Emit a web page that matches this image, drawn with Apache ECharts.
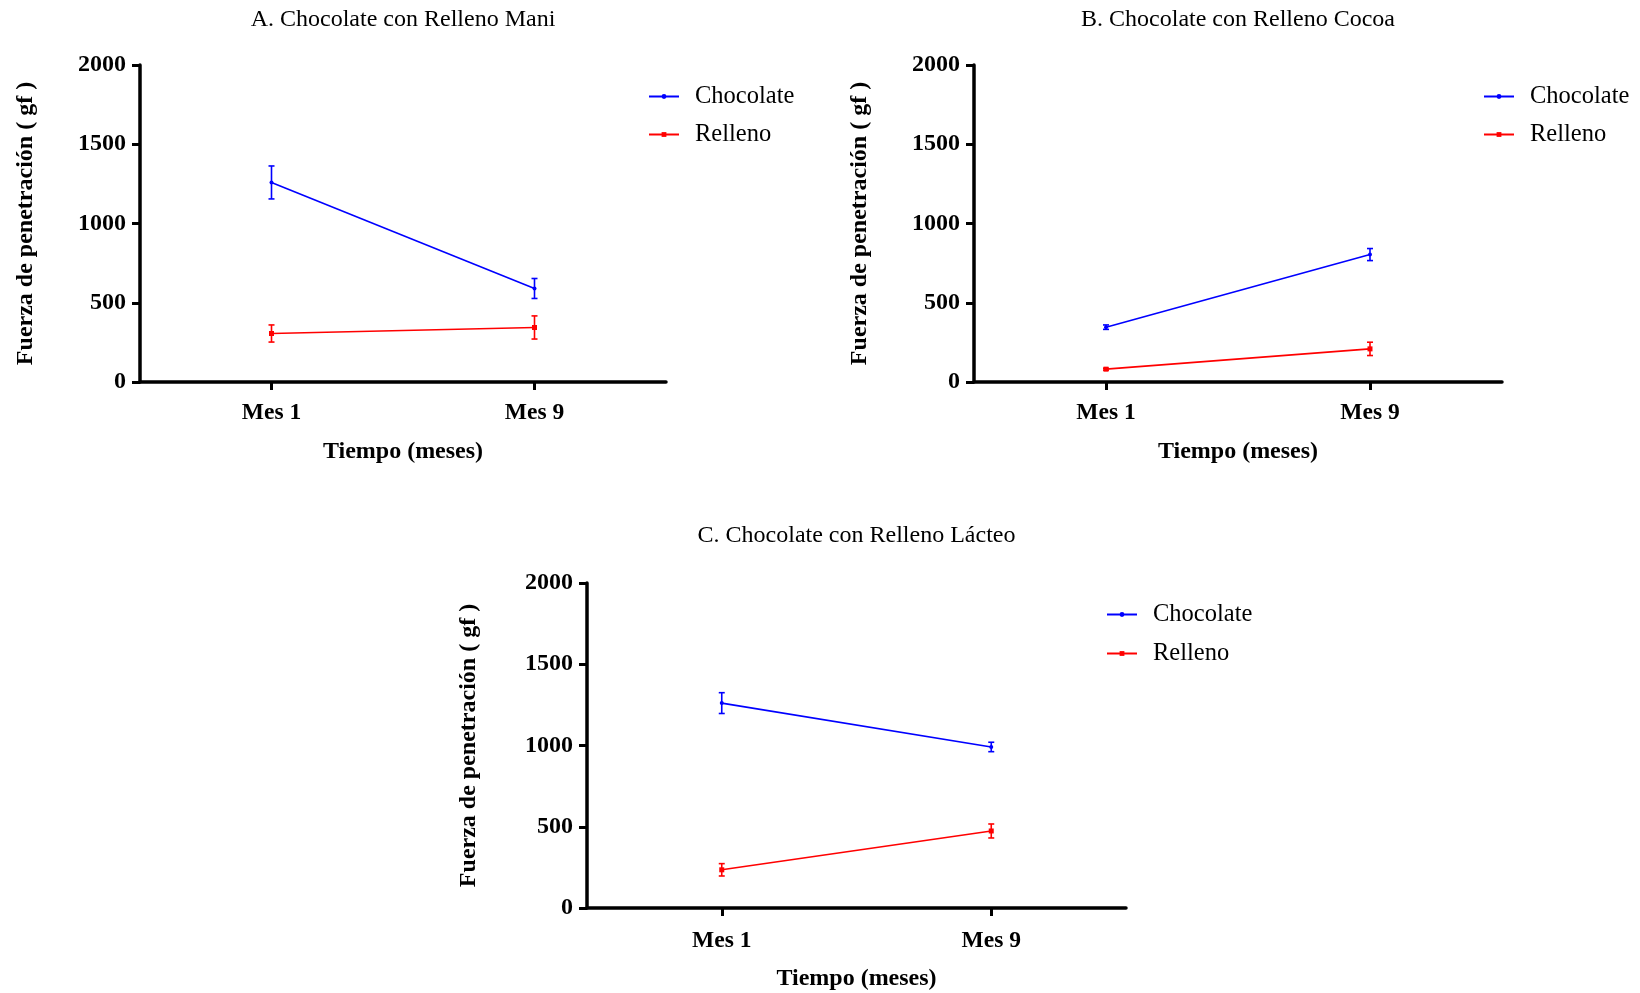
<!DOCTYPE html>
<html>
<head>
<meta charset="utf-8">
<title>Fuerza de penetración</title>
<script src="https://cdn.jsdelivr.net/npm/echarts@6/dist/echarts.min.js"></script>
<style>
  html, body { margin: 0; padding: 0; background: #fff; }
  #chart { width: 1640px; height: 993px; }
</style>
</head>
<body>
<div id="chart"></div>
<script>
// Time points on the x axis
const categories = ['Mes 1', 'Mes 9'];
const seriesNames = ['Chocolate', 'Relleno'];
const yTicks = [0, 500, 1000, 1500, 2000];

// Panel titles
const titles = [
  'A. Chocolate con Relleno Mani',
  'B. Chocolate con Relleno Cocoa',
  'C. Chocolate con Relleno Lácteo'
];

// Mean penetration force (gf) and error (±) per panel
const maniChocolate = [1259, 590];
const maniChocolateErr = [104, 63];
const maniRelleno = [306, 344];
const maniRellenoErr = [54, 73];

const cocoaChocolate = [346, 804];
const cocoaChocolateErr = [14, 38];
const cocoaRelleno = [81, 209];
const cocoaRellenoErr = [6, 42];

const lacteoChocolate = [1261, 991];
const lacteoChocolateErr = [64, 29];
const lacteoRelleno = [235, 474];
const lacteoRellenoErr = [38, 43];

const panelData = [
  { chocolate: maniChocolate, chocolateErr: maniChocolateErr, relleno: maniRelleno, rellenoErr: maniRellenoErr },
  { chocolate: cocoaChocolate, chocolateErr: cocoaChocolateErr, relleno: cocoaRelleno, rellenoErr: cocoaRellenoErr },
  { chocolate: lacteoChocolate, chocolateErr: lacteoChocolateErr, relleno: lacteoRelleno, rellenoErr: lacteoRellenoErr }
];

// Plot rectangles and text placement for each panel
const layout = [
  { grid: { left: 140, top: 65, width: 526, height: 317 }, titleY: 19, legendLeft: 643, legendTop: 79, legendGap: 13, yNameGap: 102, xNameGap: 58, xLabelMargin: 19 },
  { grid: { left: 974, top: 65, width: 528, height: 317 }, titleY: 19, legendLeft: 1478, legendTop: 79, legendGap: 13, yNameGap: 102, xNameGap: 58, xLabelMargin: 19 },
  { grid: { left: 587, top: 583, width: 539, height: 325 }, titleY: 535, legendLeft: 1101, legendTop: 597, legendGap: 14, yNameGap: 106, xNameGap: 59, xLabelMargin: 21 }
];

const BLUE = '#0000ff';
const RED = '#ff0000';
const FONT = '"Liberation Serif", "Times New Roman", serif';

function errorBarSeries(name, values, errs, color, idx) {
  return {
    type: 'custom',
    name: name + ' error',
    xAxisIndex: idx,
    yAxisIndex: idx,
    z: 3,
    silent: true,
    data: values.map((v, i) => [i, v - errs[i], v + errs[i]]),
    renderItem: function (params, api) {
      const lo = api.coord([api.value(0), api.value(1)]);
      const hi = api.coord([api.value(0), api.value(2)]);
      const cap = 3;
      const style = { stroke: color, lineWidth: 1.6 };
      return {
        type: 'group',
        children: [
          { type: 'line', shape: { x1: lo[0], y1: lo[1], x2: hi[0], y2: hi[1] }, style: style },
          { type: 'line', shape: { x1: lo[0] - cap, y1: lo[1], x2: lo[0] + cap, y2: lo[1] }, style: style },
          { type: 'line', shape: { x1: hi[0] - cap, y1: hi[1], x2: hi[0] + cap, y2: hi[1] }, style: style }
        ]
      };
    }
  };
}

const grids = [], xAxes = [], yAxes = [], series = [], legends = [], graphics = [];

layout.forEach((L, idx) => {
  const d = panelData[idx];
  grids.push(Object.assign({ containLabel: false }, L.grid));

  xAxes.push({
    type: 'category',
    gridIndex: idx,
    data: categories,
    name: 'Tiempo (meses)',
    nameLocation: 'middle',
    nameGap: L.xNameGap,
    nameTextStyle: { fontFamily: FONT, fontWeight: 'bold', fontSize: 24, color: '#000' },
    axisLine: { show: true, onZero: false, lineStyle: { color: '#000', width: 3.5 } },
    axisTick: { show: true, alignWithLabel: true, length: 8, lineStyle: { color: '#000', width: 3 } },
    axisLabel: { fontFamily: FONT, fontWeight: 'bold', fontSize: 23.5, color: '#000', margin: L.xLabelMargin },
    splitLine: { show: false }
  });

  yAxes.push({
    type: 'value',
    gridIndex: idx,
    min: yTicks[0],
    max: yTicks[yTicks.length - 1],
    interval: yTicks[1] - yTicks[0],
    name: 'Fuerza de penetración ( gf )',
    nameLocation: 'middle',
    nameGap: L.yNameGap,
    nameRotate: 90,
    nameTextStyle: { fontFamily: FONT, fontWeight: 'bold', fontSize: 24, color: '#000' },
    axisLine: { show: true, lineStyle: { color: '#000', width: 3.5 } },
    axisTick: { show: true, length: 8, lineStyle: { color: '#000', width: 3 } },
    axisLabel: {
      fontFamily: FONT, fontWeight: 'bold', fontSize: 24, color: '#000', margin: 14,
      formatter: v => String(v)
    },
    splitLine: { show: false }
  });

  series.push({
    type: 'line',
    name: seriesNames[0],
    xAxisIndex: idx,
    yAxisIndex: idx,
    data: d.chocolate,
    color: BLUE,
    symbol: 'circle',
    symbolSize: 4,
    lineStyle: { color: BLUE, width: 1.6 },
    itemStyle: { color: BLUE },
    z: 4
  });
  series.push({
    type: 'line',
    name: seriesNames[1],
    xAxisIndex: idx,
    yAxisIndex: idx,
    data: d.relleno,
    color: RED,
    symbol: 'rect',
    symbolSize: 5,
    lineStyle: { color: RED, width: 1.6 },
    itemStyle: { color: RED },
    z: 4
  });
  series.push(errorBarSeries(seriesNames[0], d.chocolate, d.chocolateErr, BLUE, idx));
  series.push(errorBarSeries(seriesNames[1], d.relleno, d.rellenoErr, RED, idx));

  legends.push({
    data: seriesNames,
    orient: 'vertical',
    left: L.legendLeft,
    top: L.legendTop,
    itemWidth: 30,
    itemHeight: 6,
    itemGap: L.legendGap,
    selectedMode: false,
    textStyle: { fontFamily: FONT, fontSize: 24.5, color: '#000', padding: [0, 0, 0, 11] }
  });

  graphics.push({
    type: 'text',
    x: L.grid.left + L.grid.width / 2,
    y: L.titleY + 1,
    style: {
      text: titles[idx],
      fontFamily: FONT,
      fontSize: 24,
      fill: '#000',
      align: 'center',
      verticalAlign: 'middle'
    }
  });
});

const chart = echarts.init(document.getElementById('chart'), null, { renderer: 'canvas' });
chart.setOption({
  backgroundColor: '#fff',
  animation: false,
  grid: grids,
  xAxis: xAxes,
  yAxis: yAxes,
  legend: legends,
  series: series,
  graphic: graphics
});
</script>
</body>
</html>
